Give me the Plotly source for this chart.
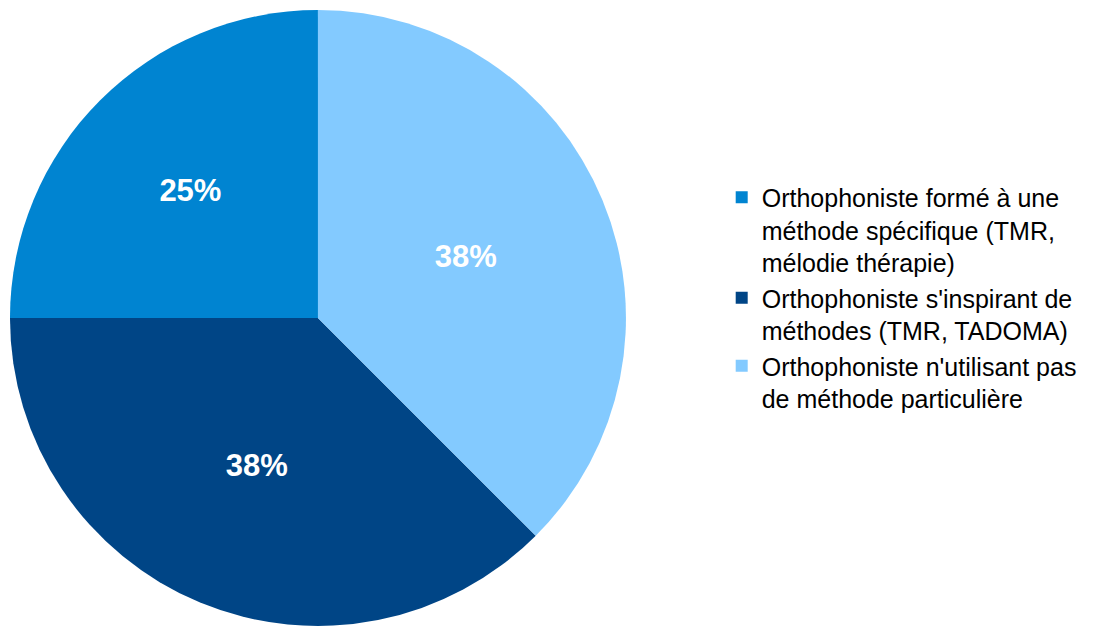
import plotly.graph_objects as go

labels = [
    "Orthophoniste formé à une<br>méthode spécifique (TMR,<br>mélodie thérapie)",
    "Orthophoniste s'inspirant de<br>méthodes (TMR, TADOMA)",
    "Orthophoniste n'utilisant pas<br>de méthode particulière",
]
values = [2, 3, 3]
colors = ["#0084D1", "#004586", "#83CAFF"]

fig = go.Figure(go.Pie(
    labels=labels,
    values=values,
    sort=False,
    direction="counterclockwise",
    rotation=-90,
    marker=dict(colors=colors, line=dict(width=0)),
    texttemplate="%{percent:.0%}",
    textposition="inside",
    insidetextorientation="horizontal",
    textfont=dict(family="Liberation Sans", size=31, color="white", weight="bold"),
    domain=dict(x=[0.0018, 0.5628], y=[0.0128, 0.9968]),
    hoverinfo="label+percent",
))

fig.update_layout(
    width=1098, height=626,
    margin=dict(l=0, r=0, t=0, b=0),
    paper_bgcolor="white",
    plot_bgcolor="white",
    showlegend=True,
    legend=dict(
        x=0.65, y=0.734, xanchor="left", yanchor="top",
        valign="top",
        font=dict(family="Liberation Sans", size=25, color="black"),
        itemwidth=30,
    ),
)

fig.write_html("out.html")
